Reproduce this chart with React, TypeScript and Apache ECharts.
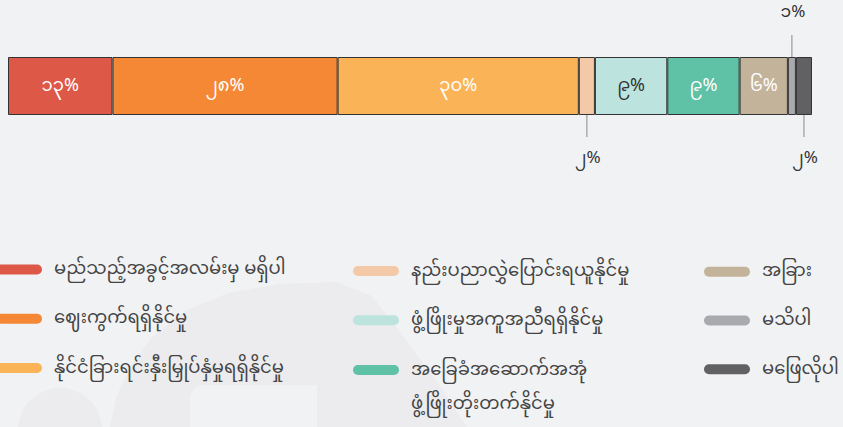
import React, { useEffect, useRef } from "react";
import * as echarts from "echarts";

const categories = ["ရလဒ်"];
const seriesNames = [
  "မည်သည့်အခွင့်အလမ်းမှ မရှိပါ",
  "ဈေးကွက်ရရှိနိုင်မှု",
  "နိုင်ငံခြားရင်းနှီးမြှုပ်နှံမှုရရှိနိုင်မှု",
  "နည်းပညာလွှဲပြောင်းရယူနိုင်မှု",
  "ဖွံ့ဖြိုးမှုအကူအညီရရှိနိုင်မှု",
  "အခြေခံအဆောက်အအုံ ဖွံ့ဖြိုးတိုးတက်နိုင်မှု",
  "အခြား",
  "မသိပါ",
  "မဖြေလိုပါ",
];
const values = [13, 28, 30, 2, 9, 9, 6, 1, 2];
const colors = [
  "#dd5846",
  "#f58834",
  "#fbb357",
  "#f4c9a7",
  "#bce3dd",
  "#5fc1a5",
  "#c4b39b",
  "#a9aaad",
  "#616163",
];

const FONT = "'Noto Sans Myanmar', 'Noto Sans Myanmar UI', Padauk, 'Myanmar Text', 'Noto Sans', sans-serif";
const MM_DIGITS = "၀၁၂၃၄၅၆၇၈၉";
const toMM = (n: number) =>
  String(n)
    .split("")
    .map((d) => MM_DIGITS[Number(d)])
    .join("") + "%";

// label placement per segment
const placement = ["inside", "inside", "inside", "bottom", "inside", "inside", "inside", "top", "bottom"];
const insideColor = ["#fff", "#fff", "#fff", "#333", "#333", "#fff", "#fff", "#333", "#333"];

// legend layout: [iconLeft, iconCenterY]
const legendPos: [number, number][] = [
  [-4, 269.5],
  [-4, 318.7],
  [-4, 368],
  [353, 271],
  [353, 320.3],
  [353, 370],
  [704, 271.7],
  [704, 320.5],
  [704, 369.2],
];

const CAPSULE = "path://M5,0 H41 A5,5 0 0 1 41,10 H5 A5,5 0 0 1 5,0 Z";
const WM = "#ecebee";
const BG = "#f1f2f4";

export default function App() {
  const ref = useRef<HTMLDivElement>(null);
  useEffect(() => {
    document.body.style.margin = "0";
    const chart = echarts.init(ref.current!, null, { renderer: "svg" });

    const series = seriesNames.map((name, i) => {
      const pos = placement[i];
      let label: any;
      if (pos === "inside") {
        label = {
          show: true,
          position: "inside",
          formatter: () => toMM(values[i]),
          color: insideColor[i],
          fontSize: 18,
          fontFamily: FONT,
        };
      } else {
        const lineTok = { width: 1, height: 22, backgroundColor: "#8a8a8a" };
        const gapTok = { width: 1, height: 12 };
        const valTok = { fontSize: 17, color: "#333", fontFamily: FONT, lineHeight: 20, padding: [0, 0, 0, 2] };
        const v = toMM(values[i]);
        label = {
          show: true,
          position: pos,
          distance: 0,
          formatter: () => (pos === "bottom" ? `{line|}\n{gap|}\n{val|${v}}` : `{val|${v}}\n{gap|}\n{line|}`),
          rich: { line: lineTok, gap: gapTok, val: valTok },
        };
      }
      return {
        name,
        type: "bar",
        stack: "total",
        barWidth: "100%",
        data: [values[i]],
        itemStyle: { color: colors[i], borderColor: "#333", borderWidth: 1 },
        label,
        emphasis: { disabled: true },
      };
    });

    const legends = seriesNames.map((name, i) => {
      const [x, cy] = legendPos[i];
      const multi = i === 5;
      const lh = multi ? 34 : 24;
      return {
        data: [{ name, icon: CAPSULE, itemStyle: { borderWidth: 0, color: colors[i] } }],
        orient: "vertical",
        left: x,
        top: multi ? cy - lh * 1.5 : cy - lh / 2,
        padding: 0,
        itemWidth: 46,
        itemHeight: 10,
        selectedMode: false,
        itemStyle: { borderWidth: 0 },
        formatter: (n: string) => (multi ? "\n" + n.replace(" ", "\n") : n),
        textStyle: {
          fontSize: 18,
          color: "#444",
          fontFamily: FONT,
          lineHeight: lh,
          padding: [0, 0, 0, 7],
        },
      };
    });

    chart.setOption({
      animation: false,
      backgroundColor: BG,
      color: colors,
      grid: { left: 8, top: 57, width: 804, height: 58 },
      xAxis: { type: "value", min: 0, max: 100, show: false },
      yAxis: { type: "category", data: categories, show: false },
      legend: legends,
      graphic: [
        {
          type: "circle",
          silent: true,
          z: -10,
          shape: { cx: 60, cy: 430, r: 42 },
          style: { fill: WM },
        },
        {
          type: "polygon",
          silent: true,
          z: -10,
          shape: {
            points: [
              [110, 427], [116, 398], [130, 366], [152, 337], [185, 311], [228, 293], [280, 284],
              [336, 282], [372, 296], [402, 335], [436, 380], [467, 427],
            ],
          },
          style: { fill: WM },
        },
        {
          type: "rect",
          silent: true,
          z: -9,
          shape: { x: 190, y: 385, width: 127, height: 60, r: [14, 0, 0, 0] },
          style: { fill: BG },
        },
      ],
      series,
    });
    return () => chart.dispose();
  }, []);
  return <div ref={ref} style={{ width: 843, height: 427 }} />;
}
